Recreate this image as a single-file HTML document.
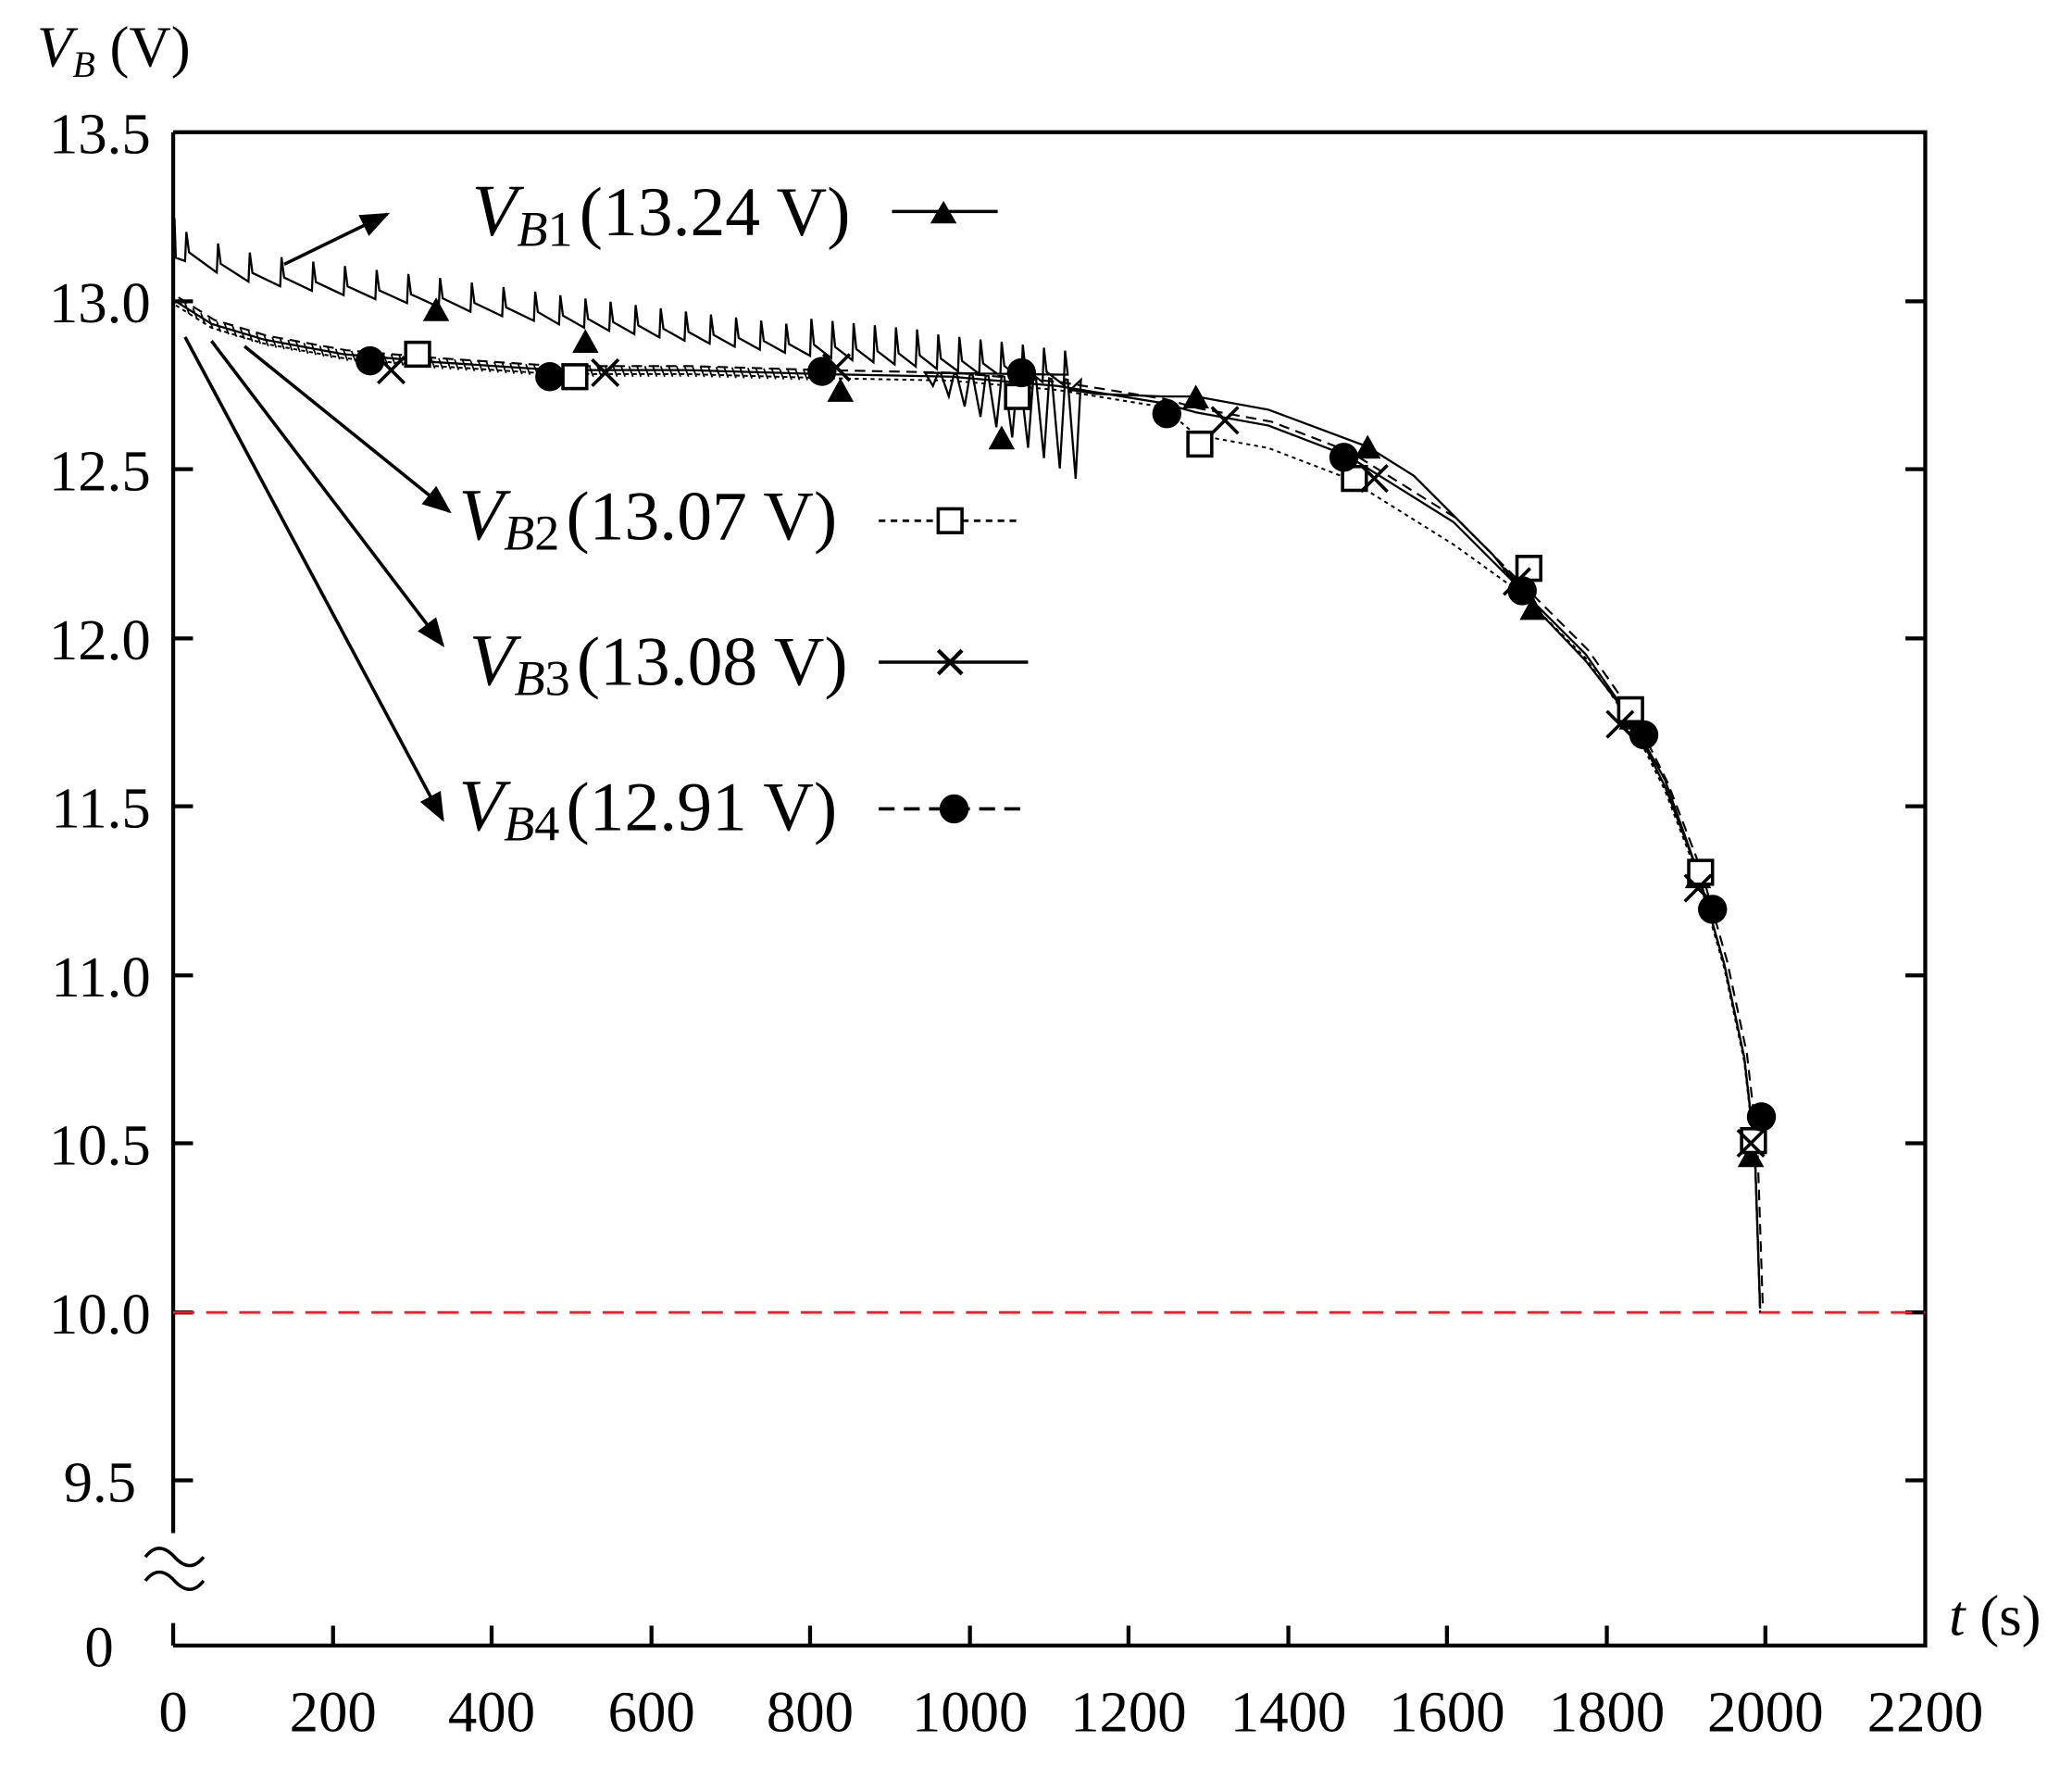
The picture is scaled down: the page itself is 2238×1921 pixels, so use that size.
<!DOCTYPE html>
<html><head><meta charset="utf-8">
<style>
html,body{margin:0;padding:0;background:#fff;}
svg{display:block;}
text{font-family:"Liberation Serif",serif;fill:#000;}
</style></head>
<body>
<svg id="s" width="2238" height="1921" viewBox="0 0 1568 1346" xmlns="http://www.w3.org/2000/svg">
<defs>
<marker id="ah2" viewBox="0 0 10 10" refX="9" refY="5" markerWidth="26" markerHeight="22" orient="auto" markerUnits="userSpaceOnUse"><path d="M0,1 L10,5 L0,9 z" fill="#000"/></marker>
</defs>
<g stroke="#000" stroke-width="3" fill="none">
<path d="M131,100 L1457,100 L1457,1245 L131,1245"/>
<path d="M131,100 L131,1160"/>
<path d="M131,1228 L131,1245"/>
</g>
<g stroke="#000" stroke-width="3">
<line x1="131" y1="228" x2="146" y2="228"/><line x1="1457" y1="228" x2="1442" y2="228"/>
<line x1="131" y1="355" x2="146" y2="355"/><line x1="1457" y1="355" x2="1442" y2="355"/>
<line x1="131" y1="483" x2="146" y2="483"/><line x1="1457" y1="483" x2="1442" y2="483"/>
<line x1="131" y1="610" x2="146" y2="610"/><line x1="1457" y1="610" x2="1442" y2="610"/>
<line x1="131" y1="738" x2="146" y2="738"/><line x1="1457" y1="738" x2="1442" y2="738"/>
<line x1="131" y1="865" x2="146" y2="865"/><line x1="1457" y1="865" x2="1442" y2="865"/>
<line x1="131" y1="993" x2="146" y2="993"/><line x1="1457" y1="993" x2="1442" y2="993"/>
<line x1="131" y1="1120" x2="146" y2="1120"/><line x1="1457" y1="1120" x2="1442" y2="1120"/>
<line x1="252" y1="1245" x2="252" y2="1230"/><line x1="372" y1="1245" x2="372" y2="1230"/>
<line x1="493" y1="1245" x2="493" y2="1230"/><line x1="613" y1="1245" x2="613" y2="1230"/>
<line x1="734" y1="1245" x2="734" y2="1230"/><line x1="854" y1="1245" x2="854" y2="1230"/>
<line x1="975" y1="1245" x2="975" y2="1230"/><line x1="1095" y1="1245" x2="1095" y2="1230"/>
<line x1="1216" y1="1245" x2="1216" y2="1230"/><line x1="1336" y1="1245" x2="1336" y2="1230"/>
</g>
<path d="M110,1178 Q120,1165 132,1178 T154,1178 M110,1196 Q120,1183 132,1196 T154,1196" stroke="#000" stroke-width="2.5" fill="none"/>
<g font-size="44" text-anchor="end">
<text x="114" y="116">13.5</text><text x="114" y="244">13.0</text><text x="114" y="371">12.5</text>
<text x="114" y="499">12.0</text><text x="114" y="626">11.5</text><text x="114" y="754">11.0</text>
<text x="114" y="881">10.5</text><text x="114" y="1009">10.0</text><text x="103" y="1136">9.5</text>
<text x="86" y="1261">0</text>
</g>
<g font-size="44" text-anchor="middle">
<text x="131" y="1310">0</text><text x="252" y="1310">200</text><text x="372" y="1310">400</text>
<text x="493" y="1310">600</text><text x="613" y="1310">800</text><text x="734" y="1310">1000</text>
<text x="854" y="1310">1200</text><text x="975" y="1310">1400</text><text x="1095" y="1310">1600</text>
<text x="1216" y="1310">1800</text><text x="1336" y="1310">2000</text><text x="1457" y="1310">2200</text>
</g>
<text x="28" y="50" font-size="44"><tspan font-style="italic">V</tspan><tspan font-style="italic" font-size="28" dy="8">B</tspan><tspan dy="-8"> (V)</tspan></text>
<text x="1475" y="1237" font-size="44"><tspan font-style="italic">t</tspan> (s)</text>
<line x1="131" y1="993" x2="1457" y2="993" stroke="#e8202a" stroke-width="2" stroke-dasharray="16,9"/>
<g font-size="53">
<text x="357" y="178"><tspan font-style="italic" font-size="56">V</tspan><tspan font-style="italic" font-size="38" dy="8">B</tspan><tspan font-size="38">1</tspan><tspan dy="-8" dx="5">(13.24 V)</tspan></text>
<text x="347" y="408"><tspan font-style="italic" font-size="56">V</tspan><tspan font-style="italic" font-size="38" dy="8">B</tspan><tspan font-size="38">2</tspan><tspan dy="-8" dx="5">(13.07 V)</tspan></text>
<text x="355" y="518"><tspan font-style="italic" font-size="56">V</tspan><tspan font-style="italic" font-size="38" dy="8">B</tspan><tspan font-size="38">3</tspan><tspan dy="-8" dx="5">(13.08 V)</tspan></text>
<text x="347" y="628"><tspan font-style="italic" font-size="56">V</tspan><tspan font-style="italic" font-size="38" dy="8">B</tspan><tspan font-size="38">4</tspan><tspan dy="-8" dx="5">(12.91 V)</tspan></text>
</g>
<g stroke="#000" stroke-width="2.5" fill="none">
<line x1="675" y1="160" x2="755" y2="160"/>
<line x1="665" y1="394" x2="770" y2="394" stroke-dasharray="5,4" stroke-width="2"/>
<line x1="665" y1="501" x2="778" y2="501"/>
<line x1="665" y1="612" x2="778" y2="612" stroke-dasharray="12,7"/>
</g>
<path d="M714,152 L724,169 L704,169 z" fill="#000"/>
<rect x="710" y="385" width="18" height="18" fill="#fff" stroke="#000" stroke-width="2.5"/>
<path d="M710,492 L728,510 M728,492 L710,510" stroke="#000" stroke-width="3"/>
<circle cx="722" cy="612" r="11" fill="#000"/>
<g stroke="#000" stroke-width="2.5" marker-end="url(#ah2)">
<line x1="215" y1="200" x2="293" y2="162"/>
<line x1="185" y1="262" x2="340" y2="387"/>
<line x1="160" y1="258" x2="335" y2="488"/>
<line x1="140" y1="255" x2="335" y2="620"/>
</g>
<g id="data"></g>
</svg>
<script>
(function(){
var g=document.getElementById('data'),NS='http://www.w3.org/2000/svg';
function el(n,a){var e=document.createElementNS(NS,n);for(var k in a)e.setAttribute(k,a[k]);g.appendChild(e);return e;}
function interp(pts,x){for(var i=0;i<pts.length-1;i++){if(x>=pts[i][0]&&x<=pts[i+1][0]){var t=(x-pts[i][0])/(pts[i+1][0]-pts[i][0]);return pts[i][1]+t*(pts[i+1][1]-pts[i][1]);}}return pts[pts.length-1][1];}
var base=[[133,195],[180,212],[250,222],[330,232],[420,245],[520,258],[620,270],[700,278],[760,285],[810,292]];
var d='M132,165 L133,195';
var x;
for(x=140;x<810;x+=(x<400?24:(x<600?19:16))){
  var y=interp(base,x);var amp=(x<600?22:28);
  if(x>700){amp=26;}
  d+=' L'+x+','+y.toFixed(1)+' L'+(x+1)+','+(y-amp).toFixed(1)+' L'+(x+3)+','+(y-amp*0.3).toFixed(1);
}
for(x=700;x<810;x+=12){var y0=282+(x-700)*0.05;var dn=(x-700)*0.6+10;d+=' L'+x+','+y0+' L'+(x+6)+','+(y0+dn)+' L'+(x+10)+','+(y0)+'';}
var tail=[[810,295],[830,298],[880,300],[905,300],[960,310],[1035,338],[1070,360],[1100,390],[1130,420],[1160,458],[1200,500],[1235,545],[1260,590],[1285,660],[1305,730],[1320,800],[1328,870],[1330,930],[1332,990]];
tail.forEach(function(p){d+=' L'+p[0]+','+p[1];});
el('path',{d:d,fill:'none',stroke:'#000','stroke-width':1.6});
var common=[[133,228],[160,245],[200,257],[260,268],[330,274],[420,280],[520,280],[620,283],[720,285],[800,292],[880,305],[905,312],[960,322],[1020,345],[1060,370],[1100,395],[1150,445],[1200,495],[1235,545],[1260,595],[1285,660],[1305,730],[1320,800],[1328,870],[1332,990]];
function shift(arr,dy,dx){return arr.map(function(p){return [p[0]+(dx||0),p[1]+dy];});}
function poly(arr){return arr.map(function(p){return p[0]+','+p[1];}).join(' ');}
var s2=shift(common,3).map(function(p){if(p[0]>880&&p[0]<1120)return [p[0],p[1]+14];return p;});
el('polyline',{points:poly(s2),fill:'none',stroke:'#000','stroke-width':1.4,'stroke-dasharray':'3,3'});
el('polyline',{points:poly(shift(common,0)),fill:'none',stroke:'#000','stroke-width':1.6});
el('polyline',{points:poly(shift(common,-3,2)),fill:'none',stroke:'#000','stroke-width':1.5,'stroke-dasharray':'8,5'});
var jd='';for(x=140;x<620;x+=6){var y=interp(common,x);jd+='M'+x+','+(y-3)+' L'+(x+3)+','+(y+5)+' ';}
el('path',{d:jd,stroke:'#000','stroke-width':1.2,fill:'none'});
var tri=[[330,236],[443,260],[636,297],[758,333],[905,302],[1035,340],[1160,462],[1235,545],[1285,665],[1325,876]];
tri.forEach(function(p){el('path',{d:'M'+p[0]+','+(p[1]-11)+' L'+(p[0]+10)+','+(p[1]+7)+' L'+(p[0]-10)+','+(p[1]+7)+' z',fill:'#000'});});
var sq=[[316,268],[435,285],[770,300],[908,336],[1025,362],[1157,430],[1234,537],[1287,660],[1327,863]];
sq.forEach(function(p){el('rect',{x:p[0]-9,y:p[1]-9,width:18,height:18,fill:'#fff',stroke:'#000','stroke-width':2.5});});
var xs=[[296,280],[458,282],[633,278],[927,318],[1040,362],[1148,440],[1226,548],[1285,672],[1325,865]];
xs.forEach(function(p){el('path',{d:'M'+(p[0]-10)+','+(p[1]-10)+' L'+(p[0]+10)+','+(p[1]+10)+' M'+(p[0]+10)+','+(p[1]-10)+' L'+(p[0]-10)+','+(p[1]+10),stroke:'#000','stroke-width':2.5});});
var cs=[[280,273],[416,285],[622,281],[773,282],[883,313],[1017,346],[1152,447],[1244,556],[1296,688],[1333,845]];
cs.forEach(function(p){el('circle',{cx:p[0],cy:p[1],r:11,fill:'#000'});});
})();
</script>
</body></html>
